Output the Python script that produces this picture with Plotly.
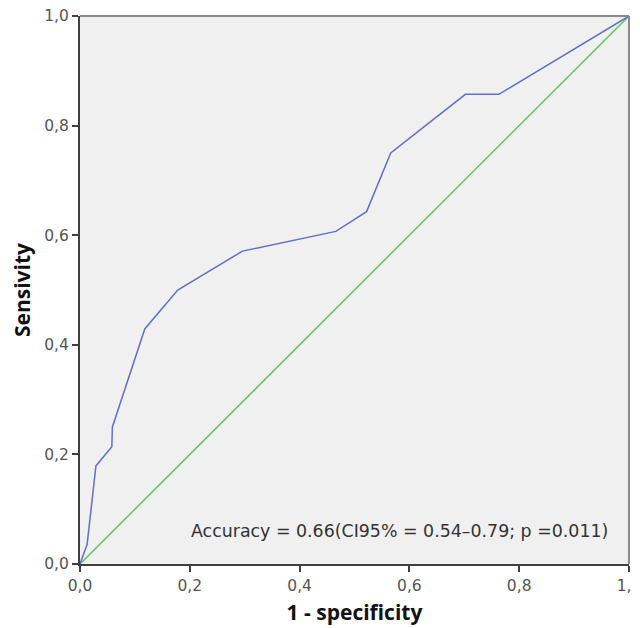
import plotly.graph_objects as go

# ROC curve points (1 - specificity, sensitivity)
fpr = [0.0, 0.013, 0.029, 0.058, 0.059, 0.118, 0.178, 0.296, 0.466, 0.522, 0.566, 0.702, 0.763, 1.0]
tpr = [0.0, 0.036, 0.179, 0.214, 0.250, 0.429, 0.500, 0.571, 0.607, 0.643, 0.750, 0.857, 0.857, 1.0]

ref_x = [0.0, 1.0]
ref_y = [0.0, 1.0]

tick_vals = [0.0, 0.2, 0.4, 0.6, 0.8, 1.0]
tick_text = ["0,0", "0,2", "0,4", "0,6", "0,8", "1,0"]

annot_text = "Accuracy = 0.66(CI95% = 0.54–0.79; p =0.011)"

fig = go.Figure()
fig.add_trace(go.Scatter(x=ref_x, y=ref_y, mode="lines",
                         line=dict(color="#5cc65c", width=1.5), hoverinfo="skip"))
fig.add_trace(go.Scatter(x=fpr, y=tpr, mode="lines",
                         line=dict(color="#6070c8", width=1.5)))

axis_common = dict(
    range=[0, 1], tickvals=tick_vals, ticktext=tick_text, automargin=False,
    ticklabeloverflow="allow",
    showgrid=False, zeroline=False, showline=True, linecolor="#404040", linewidth=2,
    ticks="outside", ticklen=6, tickwidth=2, tickcolor="#404040",
    tickfont=dict(family="DejaVu Sans", size=15.5, color="#555555"),
)

# the page body has an 8px margin, so the figure is offset by (8, 8)
fig.update_layout(
    width=640, height=620,
    margin=dict(l=72, r=19, t=8, b=64),
    paper_bgcolor="white", plot_bgcolor="#f0f0f0",
    showlegend=False,
    xaxis=dict(**axis_common,
               title=dict(text="<b>1 - specificity</b>", standoff=12,
                          font=dict(family="Open Sans", size=21, color="#111111"))),
    yaxis=dict(**axis_common,
               title=dict(text="<b>Sensivity</b>", standoff=12,
                          font=dict(family="Open Sans", size=21, color="#111111"))),
    annotations=[dict(text=annot_text, x=0.965, y=0.06, xref="x domain", yref="y domain",
                      xanchor="right", yanchor="middle", showarrow=False,
                      font=dict(family="DejaVu Sans", size=17.4, color="#333333"))],
    shapes=[
        dict(type="line", xref="x domain", yref="y domain", x0=0, x1=1, y0=1, y1=1,
             line=dict(color="#8a8a8a", width=2)),
        dict(type="line", xref="x domain", yref="y domain", x0=1, x1=1, y0=0, y1=1,
             line=dict(color="#8a8a8a", width=2)),
    ],
)

fig.write_html("out.html")
